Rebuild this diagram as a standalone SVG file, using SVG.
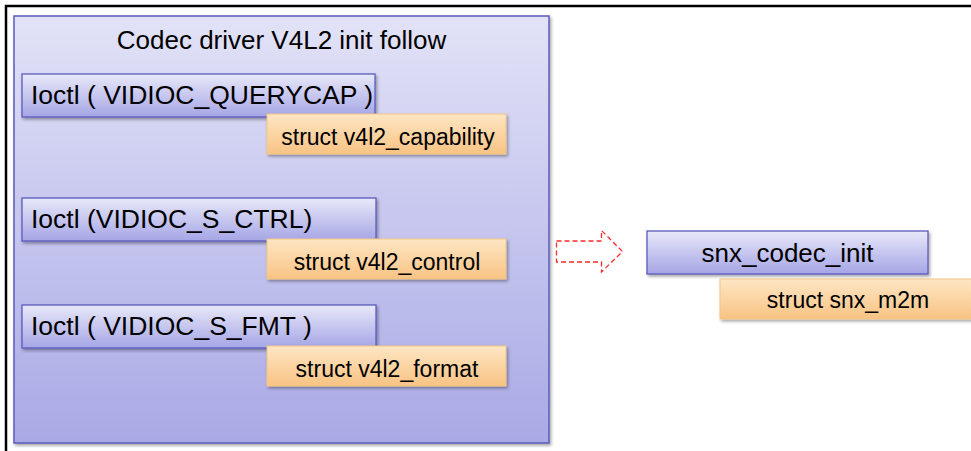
<svg xmlns="http://www.w3.org/2000/svg" width="971" height="451" viewBox="0 0 971 451">
<defs>
<linearGradient id="gCont" x1="0" y1="0" x2="0" y2="1">
<stop offset="0" stop-color="#e2e2f7"/>
<stop offset="1" stop-color="#a9a9e6"/>
</linearGradient>
<linearGradient id="gBlue" x1="0" y1="0" x2="0" y2="1">
<stop offset="0" stop-color="#e8e8f9"/>
<stop offset="1" stop-color="#a5a5e6"/>
</linearGradient>
<linearGradient id="gOrange" x1="0" y1="0" x2="0" y2="1">
<stop offset="0" stop-color="#fee6c4"/>
<stop offset="1" stop-color="#f8c384"/>
</linearGradient>
<filter id="sh" x="-10%" y="-20%" width="130%" height="160%">
<feDropShadow dx="1.5" dy="2" stdDeviation="1.5" flood-color="#000" flood-opacity="0.35"/>
</filter>
<style>
.cont{fill:url(#gCont);stroke:#5b5bbd;stroke-width:1.5}
.blue{fill:url(#gBlue);stroke:#5b5bbd;stroke-width:1.3}
.org{fill:url(#gOrange);stroke:#f2c585;stroke-width:1}
.t26{font-family:"Liberation Sans",Arial,sans-serif;font-size:26.5px;fill:#000}
.tt{font-family:"Liberation Sans",Arial,sans-serif;font-size:26px;fill:#000}
.t23{font-family:"Liberation Sans",Arial,sans-serif;font-size:23px;fill:#000}
.mid{text-anchor:middle}
.arrow{fill:none;stroke:#ff2a2a;stroke-width:1.3;stroke-dasharray:5 3}
</style>
</defs>
<rect x="0" y="0" width="971" height="451" fill="#fff"/>
<rect x="6" y="6" width="980" height="460" fill="none" stroke="#000" stroke-width="2.5"/>

<g id="container">
<rect class="cont" x="14" y="16" width="535" height="427" filter="url(#sh)"/>
<text class="tt mid" x="281.5" y="49">Codec driver V4L2 init follow</text>
</g>

<g id="ioctl-querycap">
<rect class="blue" x="22" y="74" width="353" height="43" filter="url(#sh)"/>
<text class="t26" x="31" y="104">Ioctl ( VIDIOC_QUERYCAP )</text>
</g>
<g id="struct-capability">
<rect class="org" x="267" y="114" width="239" height="40" filter="url(#sh)"/>
<text class="t23 mid" x="388" y="145">struct v4l2_capability</text>
</g>

<g id="ioctl-s-ctrl">
<rect class="blue" x="22" y="198" width="354" height="43" filter="url(#sh)"/>
<text class="t26" x="31" y="228">Ioctl (VIDIOC_S_CTRL)</text>
</g>
<g id="struct-control">
<rect class="org" x="267" y="239" width="239" height="40" filter="url(#sh)"/>
<text class="t23 mid" x="387" y="270">struct v4l2_control</text>
</g>

<g id="ioctl-s-fmt">
<rect class="blue" x="22" y="305" width="354" height="43" filter="url(#sh)"/>
<text class="t26" x="31" y="335">Ioctl ( VIDIOC_S_FMT )</text>
</g>
<g id="struct-format">
<rect class="org" x="267" y="346" width="239" height="40" filter="url(#sh)"/>
<text class="t23 mid" x="387" y="377">struct v4l2_format</text>
</g>

<g id="connectors">
<path class="arrow" d="M556.5,241 H601.5 V230.5 L622.5,251.5 L601.5,272 V262 H556.5 Z"/>
</g>

<g id="snx-codec-init">
<rect class="blue" x="647" y="231" width="281" height="43" filter="url(#sh)"/>
<text class="tt mid" x="787.5" y="262">snx_codec_init</text>
</g>
<g id="struct-snx-m2m">
<rect class="org" x="720" y="279" width="262" height="40" filter="url(#sh)"/>
<text class="t23 mid" x="848" y="308">struct snx_m2m</text>
</g>
</svg>
